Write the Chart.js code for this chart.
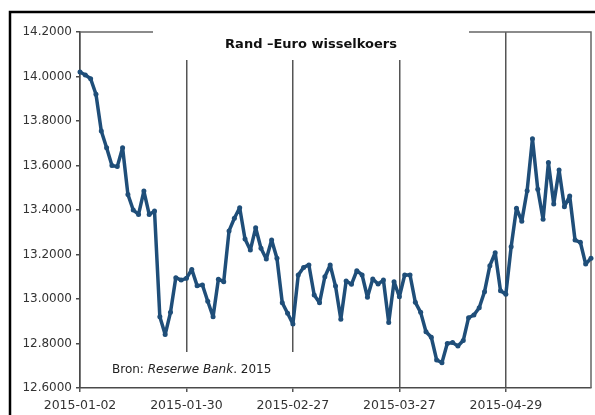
<!DOCTYPE html>
<html>
<head>
<meta charset="utf-8">
<script src="https://cdn.jsdelivr.net/npm/chart.js@4"></script>
<style>
  html, body { margin: 0; padding: 0; background: #fff; }
  #wrap { width: 595px; height: 415px; }
</style>
</head>
<body>
<div id="wrap"><canvas id="myChart" width="595" height="415"></canvas></div>
<script>
// Chart title and source note
var chartTitle = 'Rand \u2013Euro wisselkoers';
var sourcePrefix = 'Bron: ';
var sourceItalic = 'Reserwe Bank';
var sourceSuffix = '. 2015';

// Dates shown on the x-axis (every 20th trading day)
var tickLabels = ['2015-01-02', '2015-01-30', '2015-02-27', '2015-03-27', '2015-04-29'];

// Trading days from 2015-01-02 (weekends and SA public holidays skipped)
var holidays = ['2015-04-03', '2015-04-06', '2015-04-27', '2015-05-01'];
var dates = [];
var d = new Date(Date.UTC(2015, 0, 2));
while (dates.length < 97) {
    var s = d.toISOString().slice(0, 10);
    var wd = d.getUTCDay();
    if (wd !== 0 && wd !== 6 && holidays.indexOf(s) < 0) dates.push(s);
    d.setUTCDate(d.getUTCDate() + 1);
}

// Rand per euro
var rates = [
    14.020, 14.007, 13.990, 13.920, 13.755, 13.680, 13.600, 13.595, 13.680, 13.470,
    13.400, 13.380, 13.485, 13.380, 13.395, 12.920, 12.840, 12.940, 13.096, 13.085,
    13.093, 13.133, 13.060, 13.063, 12.990, 12.920, 13.089, 13.078, 13.306, 13.363,
    13.410, 13.270, 13.220, 13.320, 13.228, 13.180, 13.265, 13.183, 12.983, 12.936,
    12.888, 13.108, 13.142, 13.153, 13.018, 12.983, 13.100, 13.153, 13.058, 12.909,
    13.081, 13.066, 13.127, 13.108, 13.008, 13.090, 13.067, 13.085, 12.894, 13.078,
    13.010, 13.108, 13.108, 12.985, 12.940, 12.853, 12.828, 12.726, 12.714, 12.800,
    12.804, 12.789, 12.813, 12.916, 12.928, 12.961, 13.033, 13.150, 13.208, 13.037,
    13.021, 13.235, 13.408, 13.350, 13.487, 13.720, 13.493, 13.358, 13.613, 13.427,
    13.580, 13.415, 13.463, 13.265, 13.255, 13.157, 13.183
];

var lineColor = '#1f4e79';
var axisColor = '#4a4a4a';
var textColor = '#333333';

// Frame, white title box, source box and outer border
const decorPlugin = {
    id: 'decorPlugin',
    beforeDraw(chart) {
        const ctx = chart.ctx;
        ctx.save();
        ctx.fillStyle = '#ffffff';
        ctx.fillRect(0, 0, chart.width, chart.height);
        ctx.restore();
    },
    beforeDatasetsDraw(chart) {
        const ctx = chart.ctx;
        const a = chart.chartArea;
        ctx.save();
        // top and right frame lines
        ctx.strokeStyle = '#666666';
        ctx.lineWidth = 1.5;
        ctx.beginPath();
        ctx.moveTo(a.left, a.top);
        ctx.lineTo(a.right, a.top);
        ctx.lineTo(a.right, a.bottom);
        ctx.stroke();

        // title box
        ctx.fillStyle = '#ffffff';
        ctx.fillRect(153, 14, 316, 46);
        ctx.fillStyle = '#111111';
        ctx.font = 'bold 13px "DejaVu Sans"';
        ctx.textAlign = 'center';
        ctx.textBaseline = 'middle';
        ctx.fillText(chartTitle, 311, 45);

        // source box
        ctx.fillStyle = '#ffffff';
        ctx.fillRect(86, 352, 214, a.bottom - 353);
        ctx.fillStyle = '#222222';
        ctx.textAlign = 'left';
        var x = 112, y = 370;
        ctx.font = '12px "DejaVu Sans"';
        ctx.fillText(sourcePrefix, x, y);
        x += ctx.measureText(sourcePrefix).width;
        ctx.font = 'italic 12px "DejaVu Sans"';
        ctx.fillText(sourceItalic, x, y);
        x += ctx.measureText(sourceItalic).width;
        ctx.font = '12px "DejaVu Sans"';
        ctx.fillText(sourceSuffix, x, y);
        ctx.restore();
    },
    afterDraw(chart) {
        const ctx = chart.ctx;
        ctx.save();
        ctx.strokeStyle = '#000000';
        ctx.lineWidth = 2.5;
        ctx.beginPath();
        ctx.moveTo(10, chart.height + 2);
        ctx.lineTo(10, 12);
        ctx.lineTo(chart.width + 2, 12);
        ctx.stroke();
        ctx.restore();
    }
};

var ctx = document.getElementById('myChart').getContext('2d');

var myChart = new Chart(ctx, {
    type: 'line',
    data: {
        labels: dates,
        datasets: [{
            label: 'Rand/Euro',
            data: rates,
            borderColor: lineColor,
            backgroundColor: lineColor,
            borderWidth: 3.5,
            borderJoinStyle: 'round',
            borderCapStyle: 'round',
            pointRadius: 2.5,
            pointBorderWidth: 0,
            pointBackgroundColor: lineColor,
            tension: 0,
            fill: false
        }]
    },
    plugins: [decorPlugin],
    options: {
        responsive: false,
        animation: false,
        layout: {
            padding: { left: 10, right: 3, top: 32, bottom: 0 }
        },
        scales: {
            x: {
                type: 'category',
                offset: false,
                border: { color: axisColor, width: 1.5 },
                grid: {
                    color: '#555555',
                    lineWidth: 1.5,
                    drawOnChartArea: true,
                    drawTicks: true,
                    tickLength: 4
                },
                ticks: {
                    autoSkip: false,
                    maxRotation: 0,
                    minRotation: 0,
                    padding: 6,
                    color: textColor,
                    font: { family: 'DejaVu Sans', size: 12.5 },
                    callback: function(value, index) {
                        var lab = this.getLabelForValue(value);
                        return tickLabels.indexOf(lab) >= 0 ? lab : null;
                    }
                },
                afterFit: function(scale) { scale.height = 27; }
            },
            y: {
                min: 12.6,
                max: 14.2,
                border: { color: axisColor, width: 1.5 },
                grid: {
                    drawOnChartArea: false,
                    drawTicks: true,
                    tickLength: 4,
                    color: axisColor,
                    lineWidth: 1.5
                },
                ticks: {
                    stepSize: 0.2,
                    padding: 4,
                    color: textColor,
                    font: { family: 'DejaVu Sans', size: 12 },
                    callback: function(value) { return value.toFixed(4); }
                },
                afterFit: function(scale) { scale.width = 70; }
            }
        },
        plugins: {
            legend: { display: false },
            title: { display: false },
            tooltip: { enabled: false }
        }
    }
});
</script>
</body>
</html>
